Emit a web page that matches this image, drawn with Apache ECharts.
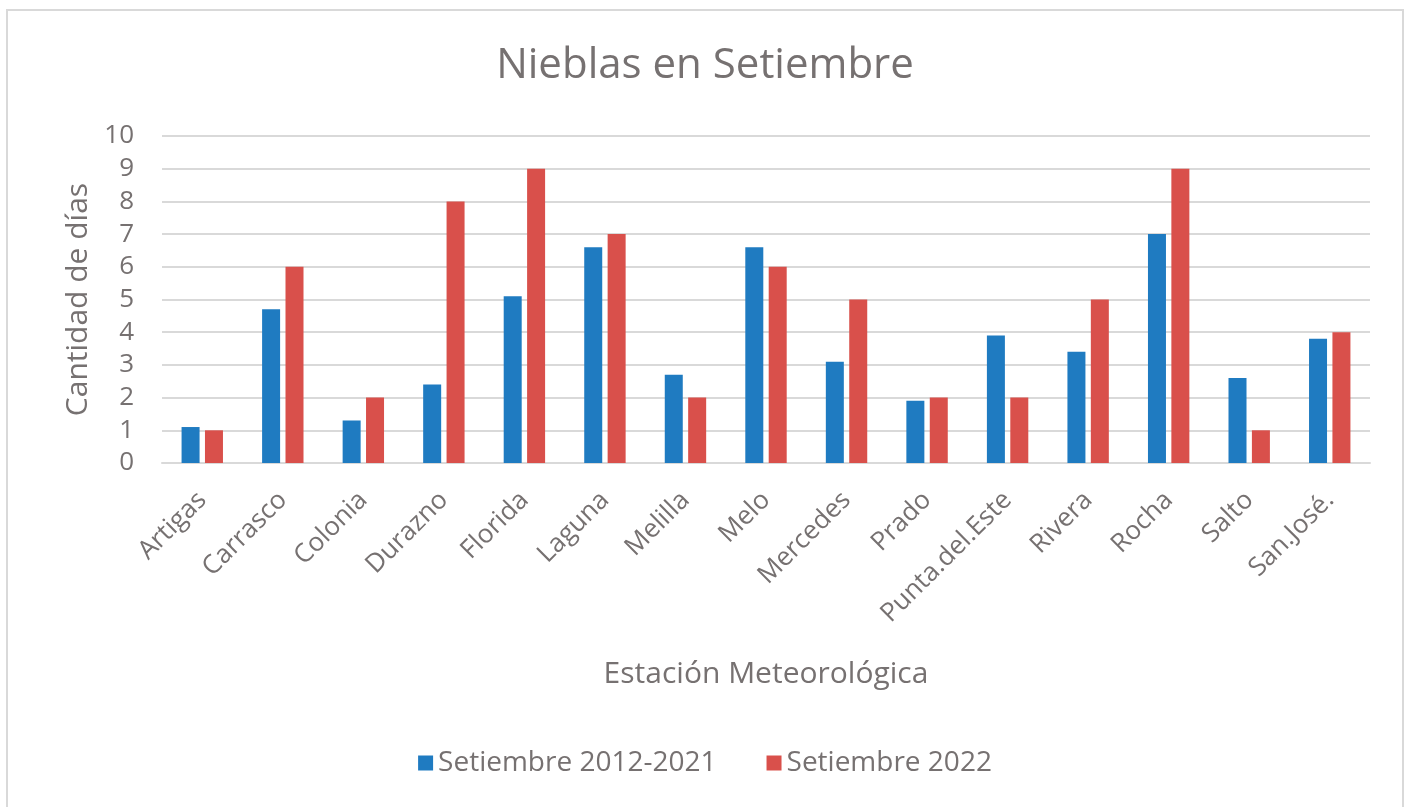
<!DOCTYPE html>
<html>
<head>
<meta charset="utf-8">
<script src="https://cdn.jsdelivr.net/npm/echarts@6/dist/echarts.min.js"></script>
<style>
  html, body { margin: 0; padding: 0; background: #fff; }
  #frame { position: absolute; left: 6px; top: 9px; width: 1398px; height: 810px; border: 2px solid #d9d9d9; box-sizing: border-box; }
  #chart { width: 1410px; height: 807px; }
</style>
</head>
<body>
<div id="frame"></div>
<div id="chart"></div>
<script>
  // estaciones
  const estaciones = ['Artigas', 'Carrasco', 'Colonia', 'Durazno', 'Florida', 'Laguna', 'Melilla', 'Melo',
    'Mercedes', 'Prado', 'Punta.del.Este', 'Rivera', 'Rocha', 'Salto', 'San.José.']
  const promedio2012_2021 = [1.1, 4.7, 1.3, 2.4, 5.1, 6.6, 2.7, 6.6, 3.1, 1.9, 3.9, 3.4, 7.0, 2.6, 3.8]
  const set2022 = [1, 6, 2, 8, 9, 7, 2, 6, 5, 2, 2, 5, 9, 1, 4]

  const gris = '#767171'
  const fuente = 'Open Sans'

  const chart = echarts.init(document.getElementById('chart'))
  chart.setOption({
    animation: false,
    textStyle: { fontFamily: fuente },
    title: {
      text: 'Nieblas en Setiembre',
      left: 'center',
      top: 40,
      textStyle: { color: gris, fontSize: 42, fontWeight: 'normal', fontFamily: fuente }
    },
    legend: {
      bottom: 25,
      left: 'center',
      itemWidth: 15,
      itemHeight: 15,
      itemGap: 50,
      icon: 'rect',
      textStyle: { color: gris, fontSize: 28, fontFamily: fuente },
      data: ['Setiembre 2012-2021', 'Setiembre 2022']
    },
    grid: {
      left: 162,
      right: 40,
      top: 136,
      bottom: 344,
      containLabel: false
    },
    xAxis: {
      type: 'category',
      data: estaciones,
      name: 'Estación Meteorológica',
      nameLocation: 'middle',
      nameGap: 196,
      nameTextStyle: { color: gris, fontSize: 30, fontFamily: fuente },
      axisLine: { lineStyle: { color: '#d9d9d9', width: 2 } },
      axisTick: { show: false },
      axisLabel: {
        interval: 0,
        rotate: 45,
        color: gris,
        fontSize: 26,
        margin: 33,
        fontFamily: fuente
      }
    },
    yAxis: {
      type: 'value',
      min: 0,
      max: 10,
      interval: 1,
      name: 'Cantidad de días',
      nameLocation: 'middle',
      nameGap: 65,
      nameTextStyle: { color: gris, fontSize: 30, fontFamily: fuente },
      axisLine: { show: false },
      axisTick: { show: false },
      axisLabel: { color: gris, fontSize: 26, margin: 28, fontFamily: fuente },
      splitLine: { lineStyle: { color: '#d9d9d9', width: 2 } }
    },
    series: [
      {
        name: 'Setiembre 2012-2021',
        type: 'bar',
        data: promedio2012_2021,
        barWidth: 18,
        barGap: '30%',
        itemStyle: { color: '#1f7bc1' }
      },
      {
        name: 'Setiembre 2022',
        type: 'bar',
        data: set2022,
        barWidth: 18,
        itemStyle: { color: '#d9504b' }
      }
    ]
  })
</script>
</body>
</html>
